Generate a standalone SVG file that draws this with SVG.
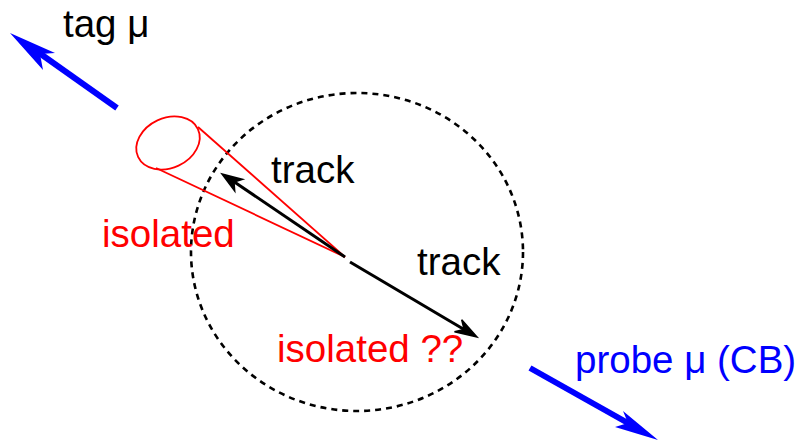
<svg xmlns="http://www.w3.org/2000/svg" width="806" height="444" viewBox="0 0 806 444">
<style>
text{font-family:"Liberation Sans",Arial,sans-serif;font-size:38.5px}
.blk{fill:#000}.red{fill:#ff0000}.blu{fill:#0000ff}
.cone{fill:none;stroke:#ff0000;stroke-width:1.8}
.trk{stroke:#000;stroke-width:3;fill:none}
.mu{stroke:#0000ff;stroke-width:6;fill:none}
</style>
<rect width="806" height="444" fill="#fff"/>
<g id="region">
<ellipse cx="357" cy="252" rx="166" ry="159" fill="none" stroke="#000" stroke-width="2.6" stroke-dasharray="6 5"/>
</g>
<g id="cone">
<ellipse cx="168" cy="143" rx="33" ry="25" transform="rotate(-25 168 143)" class="cone"/>
<line x1="198" y1="127" x2="345" y2="257" class="cone"/>
<line x1="156" y1="168" x2="345" y2="257" class="cone"/>
</g>
<g id="connectors">
<g id="track1">
<line x1="345" y1="257" x2="230" y2="179" class="trk"/>
<polygon points="222,174 242.5,179.4 234,182 234.7,191" fill="#000" stroke="#000" stroke-width="1.5"/>
</g>
<g id="track2">
<line x1="350" y1="262" x2="470" y2="333" class="trk"/>
<polygon points="477,337 461.7,319.8 464.1,329.4 454.5,331.8" fill="#000" stroke="#000" stroke-width="1.5"/>
</g>
<g id="tagmu">
<line x1="117" y1="108" x2="35" y2="50" class="mu"/>
<polygon points="10,33 55,53 40,54 43,70" fill="#0000ff"/>
</g>
<g id="probemu">
<line x1="530" y1="368" x2="635" y2="427" class="mu"/>
<polygon points="658,440 623,411 628,423 615,427" fill="#0000ff"/>
</g>
</g>
<g id="labels">
<text x="63" y="37" class="blk">tag μ</text>
<text x="271" y="183" class="blk">track</text>
<text x="417" y="275" class="blk">track</text>
<text x="102" y="247" class="red">isolated</text>
<text x="277" y="362" class="red">isolated ??</text>
<text x="575" y="373" class="blu">probe μ (CB)</text>
</g>
</svg>
